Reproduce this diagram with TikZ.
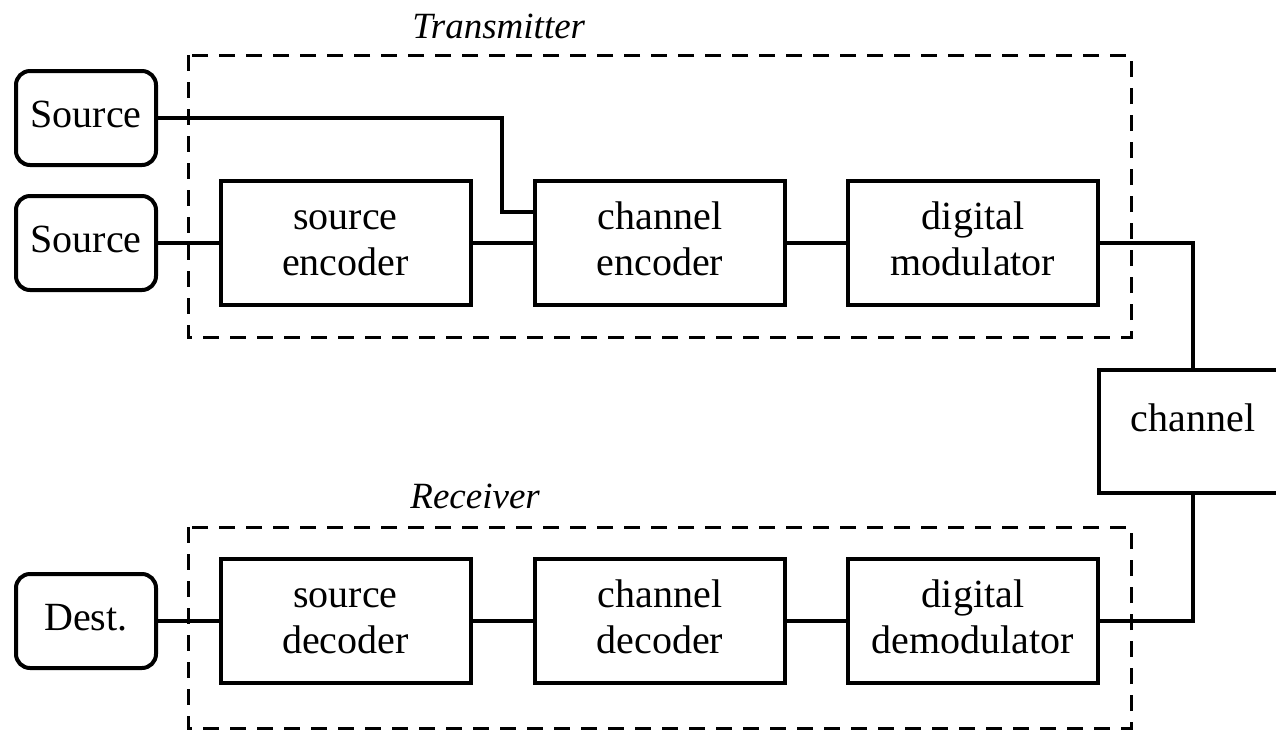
\documentclass[tikz,border=0pt]{standalone}
\usepackage{fontspec}
\setmainfont{Liberation Serif}
\usepackage{tikz}
\tikzset{>=latex}
\tikzset{
  srcbox/.style={draw, line width=2pt, rounded corners=7pt, minimum width=70pt, minimum height=47pt, inner sep=0pt, font=\fontsize{20}{23}\selectfont},
  blockbox/.style={draw, line width=2pt, minimum width=125pt, minimum height=62pt, inner sep=0pt, align=center, font=\fontsize{20}{23}\selectfont},
  wire/.style={line width=2pt},
  group/.style={line width=1.5pt, dash pattern=on 8pt off 5.5pt},
  grouplabel/.style={anchor=base west, inner sep=0pt, font=\fontsize{18.5}{22}\selectfont\itshape}
}

\begin{document}
\begin{tikzpicture}[x=0.5pt, y=-0.5pt]
\clip (0, 0) rectangle (1276, 730);

% frames
\draw[group] (188, 55) rectangle (1131, 337);
\draw[group] (188, 527) rectangle (1131, 728);
\node[grouplabel] (txlabel) at (412, 38) {Transmitter};
\node[grouplabel] (rxlabel) at (410, 508) {Receiver};

% transmitter side
\node[srcbox] (src1) at (86, 118) {\strut Source};
\node[srcbox] (src2) at (86, 243) {\strut Source};
\node[blockbox] (senc) at (345.5, 243) {\strut source\\ \strut encoder};
\node[blockbox] (cenc) at (660, 243) {\strut channel\\ \strut encoder};
\node[blockbox] (mod) at (973, 243) {\strut digital\\ \strut modulator};

% channel
\node[draw, line width=2pt, minimum width=94pt, minimum height=61.5pt, inner sep=0pt, text height=12pt, text depth=12pt, font=\fontsize{20}{23}\selectfont] (chan) at (1193, 431.5) {channel};

% receiver side
\node[srcbox] (dest) at (86, 621) {\strut Dest.};
\node[blockbox] (sdec) at (345.5, 621) {\strut source\\ \strut decoder};
\node[blockbox] (cdec) at (660, 621) {\strut channel\\ \strut decoder};
\node[blockbox] (demod) at (973, 621) {\strut digital\\ \strut demodulator};

% wires
\coordinate (bend) at (502, 212);
\draw[wire] (src1.east) -| (bend) -- (bend -| cenc.west);
\draw[wire] (src2) -- (senc);
\draw[wire] (senc) -- (cenc);
\draw[wire] (cenc) -- (mod);
\draw[wire] (mod.east) -| (chan.north);
\draw[wire] (demod.east) -| (chan.south);
\draw[wire] (demod) -- (cdec);
\draw[wire] (cdec) -- (sdec);
\draw[wire] (sdec) -- (dest);
\end{tikzpicture}
\end{document}
